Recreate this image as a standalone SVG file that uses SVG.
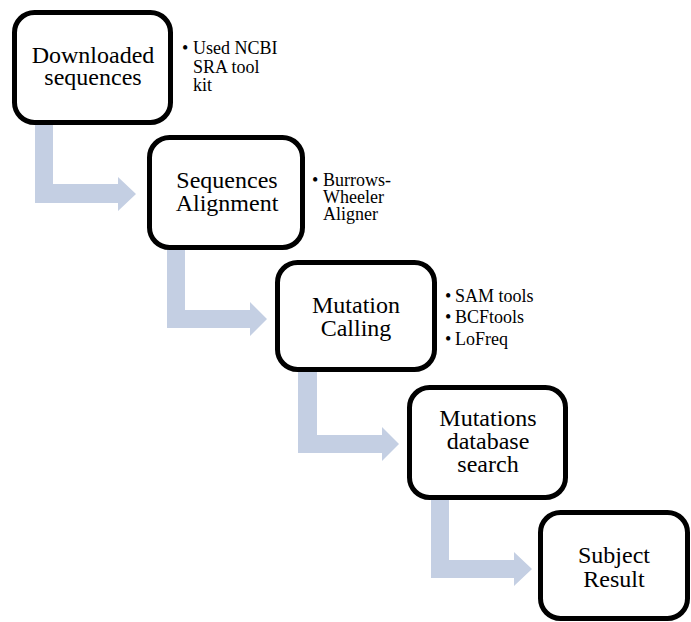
<svg xmlns="http://www.w3.org/2000/svg" width="691" height="622" viewBox="0 0 691 622">
  <style>
    .box { fill: #ffffff; stroke: #000000; stroke-width: 5; }
    .flow { fill: #c4cfe3; stroke: none; }
    text { font-family: 'Liberation Serif', Tinos, 'Times New Roman', 'DejaVu Serif', serif; fill: #000000; }
    .label { font-size: 24px; text-anchor: middle; }
    .note { font-size: 18px; }
  </style>
  <rect width="691" height="622" fill="#ffffff"/>

  <!-- bent arrows between steps -->
  <g id="connectors">
    <path class="flow" d="M35,120 H53 V184 H118 V177 L136,194 L118,211 V203 H35 Z"/>
    <path class="flow" d="M167,245 H185 V310 H250 V302 L267,319 L250,336 V328 H167 Z"/>
    <path class="flow" d="M298,367 H317 V435 H382 V427 L399,444 L382,461 V453 H298 Z"/>
    <path class="flow" d="M431,495 H449 V560 H514 V552 L532,569 L514,586 V578 H431 Z"/>
  </g>

  <g id="step-download">
    <rect class="box" x="14.5" y="12.5" width="156" height="110" rx="20"/>
    <text class="label" x="93" y="63">Downloaded</text>
    <text class="label" x="93" y="85">sequences</text>
    <text class="note" x="182" y="54">•</text>
    <text class="note" x="193" y="54">Used NCBI</text>
    <text class="note" x="193" y="72.5">SRA tool</text>
    <text class="note" x="193" y="91">kit</text>
  </g>

  <g id="step-alignment">
    <rect class="box" x="149.5" y="137.5" width="153" height="110" rx="20"/>
    <text class="label" x="227" y="188">Sequences</text>
    <text class="label" x="227" y="211">Alignment</text>
    <text class="note" x="312" y="186">•</text>
    <text class="note" x="323" y="186">Burrows-</text>
    <text class="note" x="323" y="203">Wheeler</text>
    <text class="note" x="323" y="220">Aligner</text>
  </g>

  <g id="step-calling">
    <rect class="box" x="277.5" y="262.5" width="157" height="107" rx="20"/>
    <text class="label" x="356" y="313">Mutation</text>
    <text class="label" x="356" y="336">Calling</text>
    <text class="note" x="445" y="302">•</text>
    <text class="note" x="455" y="302">SAM tools</text>
    <text class="note" x="445" y="323">•</text>
    <text class="note" x="455" y="323">BCFtools</text>
    <text class="note" x="445" y="345">•</text>
    <text class="note" x="455" y="345">LoFreq</text>
  </g>

  <g id="step-search">
    <rect class="box" x="409.5" y="387.5" width="156" height="110" rx="20"/>
    <text class="label" x="488" y="426">Mutations</text>
    <text class="label" x="488" y="449">database</text>
    <text class="label" x="488" y="472">search</text>
  </g>

  <g id="step-result">
    <rect class="box" x="540.5" y="512.5" width="147" height="106" rx="20"/>
    <text class="label" x="614" y="563">Subject</text>
    <text class="label" x="614" y="587">Result</text>
  </g>
</svg>
